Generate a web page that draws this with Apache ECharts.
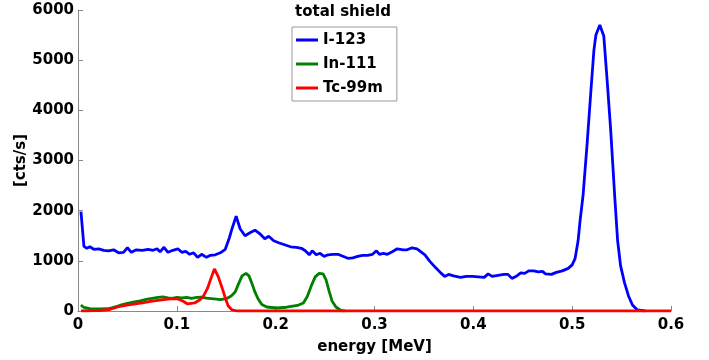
<!DOCTYPE html>
<html>
<head>
<meta charset="utf-8">
<script src="https://cdn.jsdelivr.net/npm/echarts@6/dist/echarts.min.js"></script>
<style>
  html, body { margin: 0; padding: 0; background: #fff; }
  #chart { width: 709px; height: 360px; }
</style>
</head>
<body>
<div id="chart"></div>
<script>
// energy [MeV] / counts [cts/s]
var i123Energy = [0.003, 0.006, 0.009, 0.012, 0.016, 0.021, 0.026, 0.031, 0.036, 0.041, 0.046, 0.050, 0.054, 0.059, 0.065, 0.071, 0.076, 0.080, 0.083, 0.087, 0.091, 0.096, 0.101, 0.105, 0.109, 0.113, 0.117, 0.121, 0.125, 0.130, 0.134, 0.139, 0.144, 0.149, 0.153, 0.156, 0.160, 0.164, 0.169, 0.174, 0.179, 0.184, 0.189, 0.193, 0.198, 0.203, 0.209, 0.215, 0.221, 0.226, 0.230, 0.234, 0.237, 0.241, 0.245, 0.249, 0.253, 0.258, 0.263, 0.268, 0.273, 0.278, 0.283, 0.288, 0.293, 0.298, 0.302, 0.305, 0.309, 0.313, 0.318, 0.323, 0.329, 0.333, 0.338, 0.343, 0.347, 0.351, 0.356, 0.362, 0.367, 0.371, 0.375, 0.380, 0.387, 0.393, 0.399, 0.405, 0.411, 0.415, 0.419, 0.425, 0.431, 0.435, 0.439, 0.444, 0.448, 0.452, 0.456, 0.461, 0.466, 0.470, 0.473, 0.479, 0.484, 0.490, 0.496, 0.500, 0.503, 0.506, 0.508, 0.511, 0.515, 0.519, 0.522, 0.524, 0.528, 0.532, 0.535, 0.539, 0.543, 0.546, 0.549, 0.553, 0.557, 0.561, 0.566, 0.574];
var i123Counts = [1980, 1290, 1250, 1280, 1230, 1240, 1210, 1200, 1220, 1160, 1170, 1260, 1170, 1220, 1210, 1230, 1210, 1240, 1180, 1270, 1170, 1210, 1240, 1170, 1190, 1130, 1160, 1070, 1130, 1070, 1110, 1120, 1160, 1230, 1450, 1650, 1890, 1640, 1500, 1560, 1610, 1540, 1440, 1490, 1400, 1360, 1320, 1280, 1270, 1250, 1200, 1120, 1200, 1120, 1150, 1090, 1120, 1130, 1130, 1090, 1050, 1060, 1090, 1110, 1110, 1130, 1200, 1130, 1150, 1130, 1180, 1240, 1220, 1220, 1260, 1240, 1180, 1120, 990, 860, 760, 690, 730, 700, 670, 690, 690, 680, 670, 740, 690, 710, 730, 730, 650, 700, 760, 750, 800, 800, 780, 790, 740, 730, 770, 800, 850, 920, 1050, 1400, 1800, 2300, 3300, 4400, 5200, 5500, 5700, 5480, 4700, 3600, 2300, 1400, 900, 560, 300, 120, 20, 0];

var in111Energy = [0.003, 0.006, 0.012, 0.022, 0.030, 0.035, 0.042, 0.050, 0.057, 0.063, 0.069, 0.075, 0.081, 0.086, 0.091, 0.095, 0.100, 0.105, 0.110, 0.115, 0.120, 0.125, 0.130, 0.135, 0.140, 0.144, 0.150, 0.155, 0.159, 0.162, 0.166, 0.170, 0.173, 0.176, 0.179, 0.182, 0.186, 0.191, 0.201, 0.211, 0.222, 0.228, 0.232, 0.236, 0.240, 0.244, 0.248, 0.251, 0.254, 0.257, 0.261, 0.266, 0.270];
var in111Counts = [120, 70, 45, 40, 45, 70, 110, 150, 180, 200, 230, 250, 270, 280, 260, 250, 270, 260, 270, 250, 270, 275, 255, 245, 235, 225, 245, 300, 380, 520, 700, 750, 700, 550, 380, 250, 130, 80, 60, 75, 110, 160, 290, 500, 680, 750, 740, 620, 400, 200, 80, 10, 0];

var tc99mEnergy = [0.003, 0.022, 0.032, 0.040, 0.051, 0.065, 0.075, 0.085, 0.095, 0.101, 0.106, 0.111, 0.118, 0.123, 0.127, 0.131, 0.134, 0.138, 0.142, 0.146, 0.149, 0.152, 0.156, 0.161, 0.600];
var tc99mCounts = [0, 10, 30, 80, 120, 160, 195, 220, 245, 240, 200, 140, 160, 220, 300, 450, 620, 840, 680, 450, 260, 100, 20, 0, 0];

var yTicks = [0, 1000, 2000, 3000, 4000, 5000, 6000];

function pairs(xs, ys) {
  return xs.map(function (x, i) { return [x, ys[i]]; });
}

(function () {
  var myChart = echarts.init(document.getElementById("chart"));
  var labelFont = {
    color: "#000",
    fontFamily: "DejaVu Sans",
    fontWeight: "bold",
    fontSize: 15
  };

  var option = {
    animation: false,
    backgroundColor: "#fff",
    title: {
      text: "total shield",
      left: 295,
      top: 5,
      padding: 0,
      textStyle: labelFont
    },
    legend: {
      orient: "vertical",
      left: 292,
      top: 27,
      padding: [4, 14, 4, 4],
      itemGap: 6,
      itemWidth: 22,
      itemHeight: 3,
      icon: "rect",
      borderColor: "#999",
      borderWidth: 1,
      borderRadius: 0,
      backgroundColor: "#fff",
      textStyle: Object.assign({ lineHeight: 18 }, labelFont),
      data: ["I-123", "In-111", "Tc-99m"]
    },
    grid: {
      left: 78,
      right: 38,
      top: 10,
      bottom: 47,
      containLabel: false
    },
    xAxis: {
      type: "value",
      min: 0,
      max: 0.6,
      interval: 0.1,
      name: "energy [MeV]",
      nameLocation: "middle",
      nameGap: 29,
      nameTextStyle: labelFont,
      axisLine: { lineStyle: { color: "#888", width: 1 } },
      axisTick: { inside: true, length: 5, lineStyle: { color: "#888" } },
      axisLabel: Object.assign({ margin: 7 }, labelFont),
      splitLine: { show: false }
    },
    yAxis: {
      type: "value",
      min: yTicks[0],
      max: yTicks[yTicks.length - 1],
      interval: 1000,
      name: "[cts/s]",
      nameLocation: "middle",
      nameRotate: 90,
      nameGap: 49,
      nameMoveOverlap: false,
      nameTextStyle: labelFont,
      axisLine: { show: true, lineStyle: { color: "#888", width: 1 } },
      axisTick: { show: true, inside: true, length: 5, lineStyle: { color: "#888" } },
      axisLabel: Object.assign({
        margin: 4,
        formatter: function (v) { return String(v); }
      }, labelFont),
      splitLine: { show: false }
    },
    series: [
      {
        name: "I-123",
        type: "line",
        symbol: "none",
        lineStyle: { color: "#0000ff", width: 2.8 },
        itemStyle: { color: "#0000ff" },
        data: pairs(i123Energy, i123Counts)
      },
      {
        name: "In-111",
        type: "line",
        symbol: "none",
        lineStyle: { color: "#008000", width: 2.8 },
        itemStyle: { color: "#008000" },
        data: pairs(in111Energy, in111Counts)
      },
      {
        name: "Tc-99m",
        type: "line",
        symbol: "none",
        lineStyle: { color: "#ff0000", width: 2.8 },
        itemStyle: { color: "#ff0000" },
        data: pairs(tc99mEnergy, tc99mCounts)
      }
    ]
  };

  myChart.setOption(option);
  window.addEventListener("resize", function () {
    myChart.resize();
  });
})();
</script>
</body>
</html>
